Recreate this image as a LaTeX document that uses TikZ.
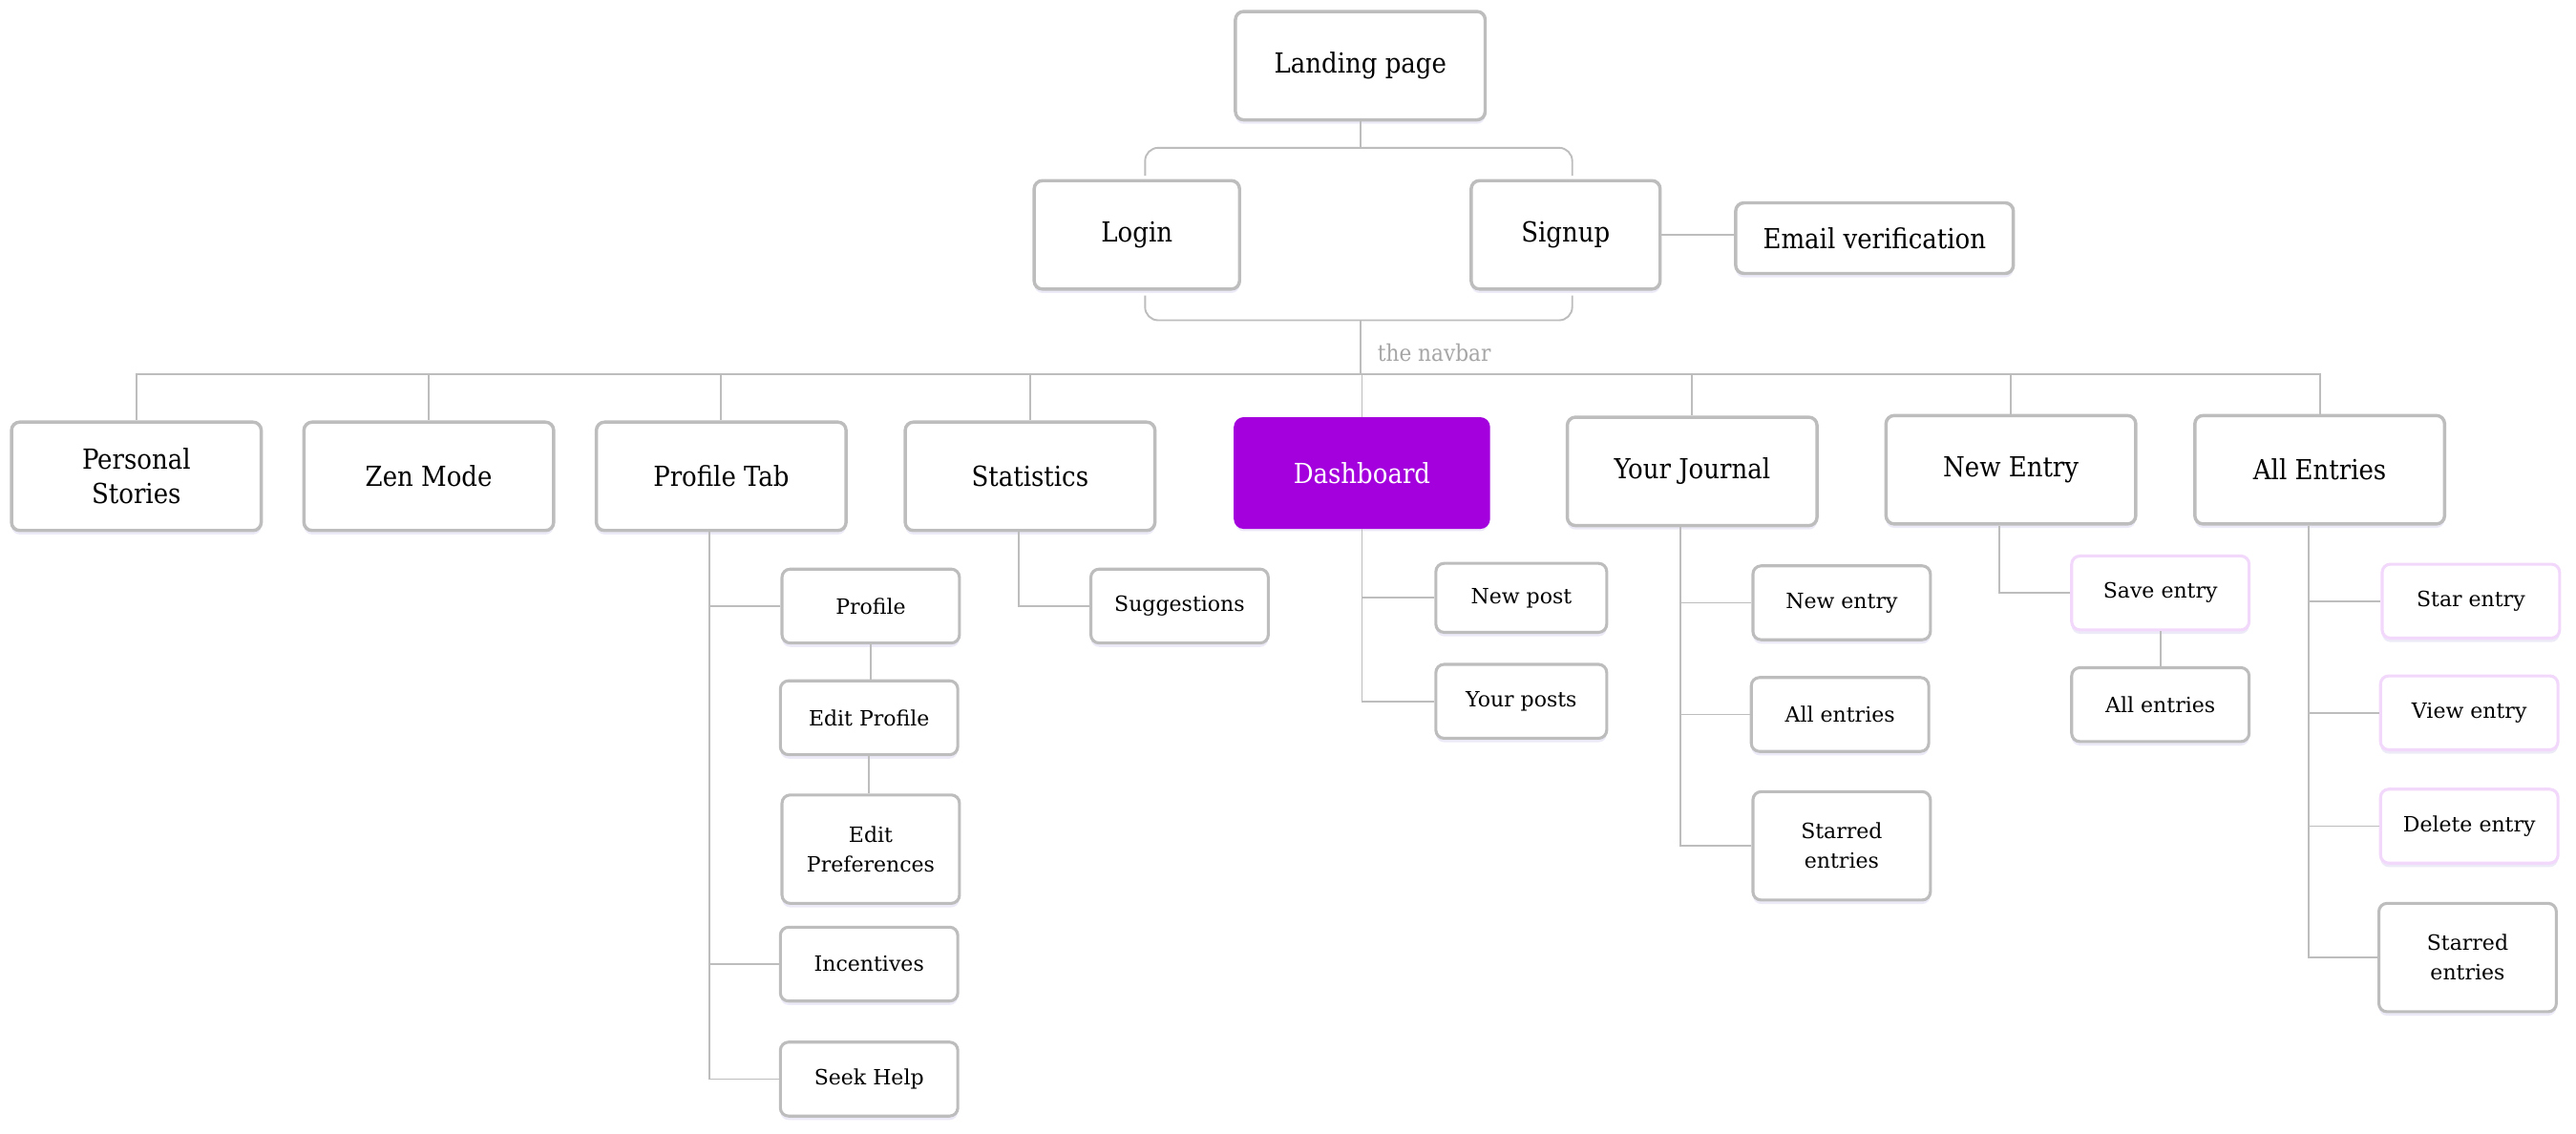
\documentclass[tikz,border=0pt]{standalone}
\usepackage{fontspec}
\setmainfont{DejaVu Serif}
\newfontfamily\condfont{DejaVu Serif Condensed}
\usetikzlibrary{calc,shadows}
\definecolor{linegray}{HTML}{BDBDBD}
\definecolor{boxgray}{HTML}{BDBDBD}
\definecolor{dashpurple}{HTML}{A300DD}
\definecolor{pinkedge}{HTML}{F2D8FB}
\definecolor{glow}{HTML}{E6E2F6}
\definecolor{navgray}{HTML}{A6A6A6}
\tikzset{
  page/.style={draw=boxgray, line width=1pt, rounded corners=2.5pt, fill=white,
    minimum width=76pt, minimum height=33pt, inner sep=1pt, align=center,
    font=\condfont\fontsize{8.4}{10.5}\selectfont,
    drop shadow={shadow xshift=0pt, shadow yshift=-1.2pt, fill=glow, opacity=0.7}},
  subpage/.style={page, minimum width=54pt, minimum height=22.5pt, line width=0.9pt,
    font=\fontsize{6.4}{9}\selectfont},
  action/.style={subpage, draw=pinkedge},
  link/.style={draw=linegray, line width=0.55pt},
}
\begin{document}
\begin{tikzpicture}[x=0.5pt, y=-0.5pt]
    \fill[white] (0,0) rectangle (1568,690);
    \useasboundingbox (0,0) rectangle (1568,690);
    % entry pages
    \node[page] (landing) at (828,40) {Landing page};
    \node[page, minimum width=62.5pt] (login) at (692,143) {Login};
    \node[page, minimum width=57.5pt] (signup) at (953,143) {Signup};
    \node[page, minimum width=84.5pt, minimum height=21.5pt] (email) at (1141,145) {Email verification};
    % navbar tabs
    \node[page] (stories) at (83,290) {Personal\\Stories};
    \node[page] (zen) at (261,290) {Zen Mode};
    \node[page] (ptab) at (439,290) {Profile Tab};
    \node[page] (stats) at (627,290) {Statistics};
    \node[page, fill=dashpurple, draw=dashpurple, text=white, minimum width=77pt] (dash) at (829,288) {Dashboard};
    \node[page] (journal) at (1030,287) {Your Journal};
    \node[page] (newentry) at (1224,286) {New Entry};
    \node[page] (allentries) at (1412,286) {All Entries};
    % sub pages
    \node[subpage] (profile) at (530,369) {Profile};
    \node[subpage] (editprofile) at (529,437) {Edit Profile};
    \node[subpage, minimum height=33pt] (editprefs) at (530,517) {Edit\\Preferences};
    \node[subpage] (incentives) at (529,587) {Incentives};
    \node[subpage] (seekhelp) at (529,657) {Seek Help};
    \node[subpage] (suggest) at (718,369) {Suggestions};
    \node[subpage, minimum width=52pt, minimum height=21pt] (newpost) at (926,364) {New post};
    \node[subpage, minimum width=52pt] (yourposts) at (926,427) {Your posts};
    \node[subpage] (jnew) at (1121,367) {New entry};
    \node[subpage] (jall) at (1120,435) {All entries};
    \node[subpage, minimum height=33pt] (jstarred) at (1121,515) {Starred\\entries};
    \node[action] (save) at (1315,361) {Save entry};
    \node[subpage] (eall) at (1315,429) {All entries};
    \node[action] (star) at (1504,366) {Star entry};
    \node[action] (view) at (1503,434) {View entry};
    \node[action] (delete) at (1503,503) {Delete entry};
    \node[subpage, minimum height=33pt] (estarred) at (1502,583) {Starred\\entries};
    % connectors
    \coordinate (split) at (828,90);
    \coordinate (merge) at (828,195);
    \coordinate (nav) at (828,228);
    \draw[link, rounded corners=4pt] ($(login.north)+(5,-2)$) |- (split) -| ($(signup.north)+(4,-2)$);
    \draw[link] (landing.south) -- (split);
    \draw[link, rounded corners=4pt] ($(login.south)+(5,3)$) |- (merge) -| ($(signup.south)+(4,3)$);
    \draw[link] (merge) -- (nav);
    \draw[link] (signup.east) -- (signup.east -| email.west);
    \foreach \tab in {stories, zen, ptab, stats, dash, journal, newentry, allentries}
        \draw[link] (nav) -| (\tab.north);
    \node[font=\condfont\fontsize{7}{8}\selectfont, text=navgray] (navlabel) at (873,215) {the navbar};
    \foreach \item in {profile, incentives, seekhelp}
        \draw[link] ($(ptab.south)+(-7,0)$) |- (\item.west);
    \draw[link] (profile.south) -- (profile.south |- editprofile.north);
    \draw[link] (editprofile.south) -- (editprofile.south |- editprefs.north);
    \draw[link] ($(stats.south)+(-7,0)$) |- (suggest.west);
    \foreach \item in {newpost, yourposts}
        \draw[link] (dash.south) |- (\item.west);
    \foreach \item in {jnew, jall, jstarred}
        \draw[link] ($(journal.south)+(-7,0)$) |- (\item.west);
    \draw[link] ($(newentry.south)+(-7,0)$) |- (save.west);
    \draw[link] (save.south) -- (save.south |- eall.north);
    \foreach \item in {star, view, delete, estarred}
        \draw[link] ($(allentries.south)+(-7,0)$) |- (\item.west);
\end{tikzpicture}
\end{document}
